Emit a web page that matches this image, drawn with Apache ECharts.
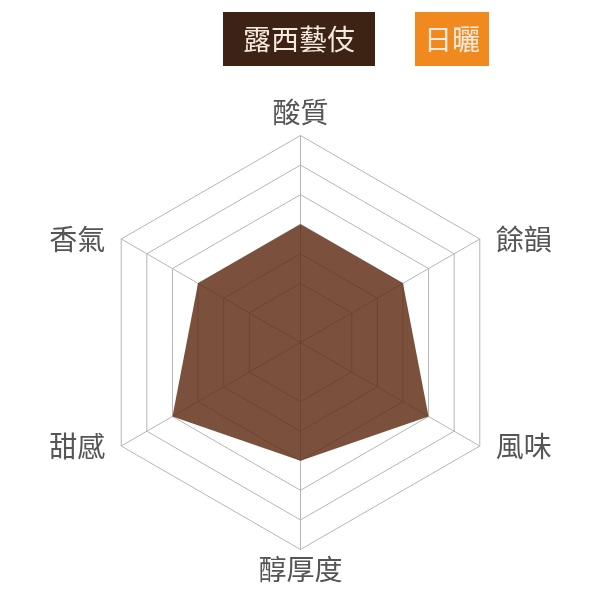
<!DOCTYPE html>
<html>
<head>
<meta charset="utf-8">
<script src="https://cdn.jsdelivr.net/npm/echarts@6/dist/echarts.min.js"></script>
<style>
  html, body { margin: 0; padding: 0; background: #fff; }
  #main { width: 600px; height: 600px; }
</style>
</head>
<body>
<div id="main"></div>
<script>
// 指標 (從上方開始, 逆時針)
var indicators = ['酸質', '香氣', '甜感', '醇厚度', '風味', '餘韻'];
var scoreMax = 7;
var lucyGeisha = [4, 4, 5, 4, 5, 4];   // 露西藝伎
var sunDried = [];                      // 日曬 (圖上沒有畫出)
var seriesNames = ['露西藝伎', '日曬'];

var chart = echarts.init(document.getElementById('main'));
var font = '"Noto Sans CJK TC", "Noto Sans CJK SC", sans-serif';
var grid = '#b5b5b5';

var option = {
  animation: false,
  legend: {
    top: 12,
    left: 218,
    padding: 0,
    itemGap: 35,
    icon: 'none',
    itemWidth: 0,
    itemHeight: 10,
    selectedMode: false,
    textStyle: { color: '#f5eadf', fontSize: 28, fontFamily: font },
    data: [
      { name: seriesNames[0], textStyle: { backgroundColor: '#3d2313', padding: [13, 20, 13, 20] } },
      { name: seriesNames[1], textStyle: { backgroundColor: '#f18a1e', padding: [13, 9, 13, 9] } }
    ]
  },
  radar: {
    center: [300.5, 342.5],
    radius: 207,
    startAngle: 90,
    splitNumber: 7,
    nameGap: 0,
    indicator: indicators.map(function (n) { return { name: n, min: 0, max: scoreMax }; }),
    axisName: {
      color: '#555',
      fontSize: 28,
      fontFamily: font,
      padding: [6, 16, 9, 16]
    },
    splitArea: { show: false },
    splitLine: {
      lineStyle: {
        width: 1,
        color: [grid, 'rgba(0,0,0,0)', grid, grid, grid, grid, grid, grid]
      }
    },
    axisLine: { lineStyle: { color: grid, width: 1 } }
  },
  series: [
    {
      name: seriesNames[0],
      type: 'radar',
      symbol: 'none',
      itemStyle: { color: '#3d2313' },
      lineStyle: { opacity: 0 },
      areaStyle: { color: '#602e16', opacity: 0.83 },
      data: [{ value: lucyGeisha, name: seriesNames[0] }]
    },
    {
      name: seriesNames[1],
      type: 'radar',
      symbol: 'none',
      itemStyle: { color: '#f18a1e' },
      data: sunDried
    }
  ]
};
chart.setOption(option);
</script>
</body>
</html>
